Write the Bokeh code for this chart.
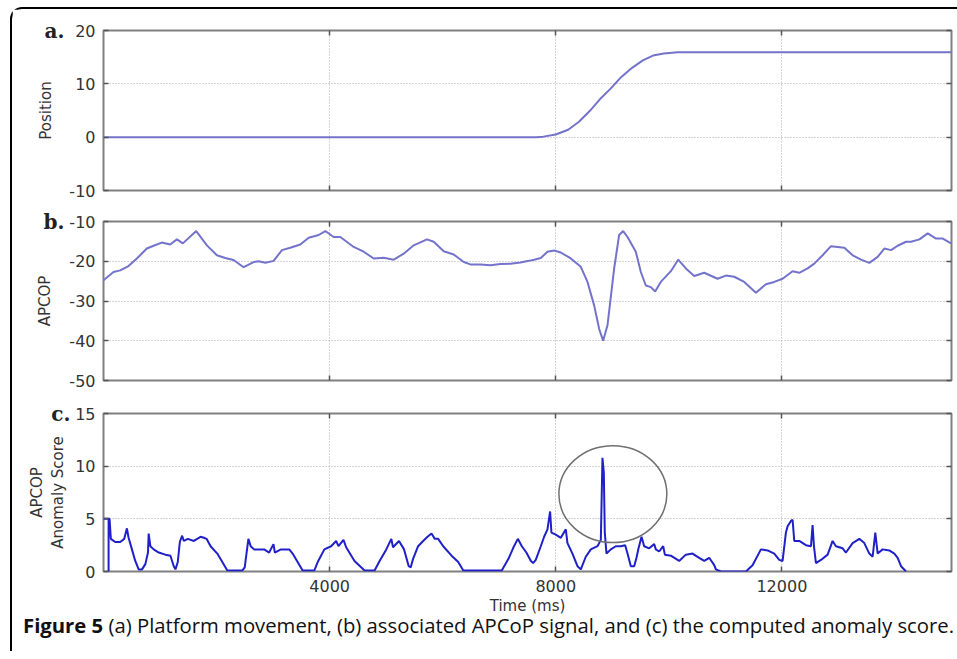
from bokeh.plotting import figure
from bokeh.models import FixedTicker, LinearAxis, Div, Range1d, Grid
from bokeh.layouts import column
from bokeh.embed import file_html
from bokeh.resources import INLINE

# ---------------- data ----------------
time_ticks = [4000, 8000, 12000]
x_limits = [0, 15000]

pos_ticks = [-10, 0, 10, 20]
pos_t = [0, 7650, 7780, 8000, 8220, 8410, 8600, 8780, 8970, 9160, 9350, 9540, 9720, 9910, 10160, 15000]
pos_v = [0, 0, 0.1, 0.5, 1.4, 2.9, 4.9, 7.1, 9.1, 11.3, 13.0, 14.4, 15.3, 15.7, 15.9, 15.9]

apcop_ticks = [-50, -40, -30, -20, -10]
apcop_t = [0, 177, 295, 442, 590, 767, 885, 1032, 1180, 1298,
           1404, 1640, 1829, 2006, 2153, 2301, 2478, 2655, 2744, 2862,
           3009, 3157, 3304, 3481, 3629, 3806, 3924, 4071, 4189, 4425,
           4602, 4779, 4956, 5133, 5310, 5487, 5723, 5841, 6018, 6195,
           6372, 6490, 6667, 6844, 7021, 7198, 7375, 7523,
           7617, 7735, 7853, 7971, 8089, 8266, 8443, 8561, 8679, 8767,
           8838, 8915, 9033, 9121, 9192, 9269, 9416, 9505, 9593, 9682,
           9758, 9858, 10036, 10165, 10301, 10449, 10626, 10862, 11009, 11157,
           11334, 11540, 11717, 11865, 12012, 12189, 12307, 12455, 12573, 12720,
           12868, 13104, 13252, 13399, 13547, 13694, 13812, 13930, 14048, 14196,
           14284, 14432, 14579, 14727, 14845, 14993]
apcop_v = [-24.8, -22.7, -22.3, -21.2, -19.3, -16.8, -16.1, -15.3, -15.8, -14.5,
           -15.5, -12.4, -16.0, -18.5, -19.2, -19.7, -21.5, -20.2, -20.0, -20.4,
           -19.9, -17.2, -16.6, -15.8, -14.1, -13.4, -12.4, -13.9, -13.9, -16.4,
           -17.6, -19.3, -19.1, -19.6, -18.1, -16.0, -14.5, -15.1, -17.5, -18.3,
           -20.2, -20.8, -20.8, -21.0, -20.7, -20.6, -20.3, -19.9,
           -19.6, -19.2, -17.6, -17.3, -17.8, -19.3, -21.4, -25.2, -31.1, -37.0,
           -40.0, -36.1, -21.8, -13.4, -12.4, -13.9, -17.6, -22.7, -26.1, -26.5,
           -27.6, -25.2, -22.5, -19.6, -21.8, -23.7, -22.9, -24.4, -23.6, -23.9,
           -25.2, -27.9, -25.8, -25.2, -24.4, -22.5, -22.9, -21.8, -20.6, -18.5,
           -16.2, -16.6, -18.5, -19.6, -20.4, -18.9, -16.8, -17.2, -16.1, -15.1,
           -15.1, -14.5, -13.0, -14.3, -14.3, -15.5]

anom_ticks = [0, 5, 10, 15]
anom_t = [0, 90, 90, 90, 107, 130, 207, 296, 367, 414,
          444, 503, 562, 622, 681, 740, 787, 799, 829, 888,
          977, 1095, 1184, 1243, 1273, 1314, 1350, 1391, 1421, 1492,
          1598, 1687, 1717, 1776, 1823, 1894, 2013, 2102, 2190, 2457,
          2498, 2563, 2604, 2664, 2842, 2930, 3007, 3031, 3138, 3286,
          3345, 3434, 3522, 3730, 3789, 3907, 4026, 4115, 4156, 4245,
          4292, 4440, 4618, 4795, 4884, 5002, 5091, 5121, 5227, 5316,
          5399, 5435, 5476, 5565, 5654, 5731, 5802, 5861, 5920, 6009,
          6157, 6275, 6364, 7045, 7163, 7252, 7329, 7400, 7480, 7560,
          7600, 7646, 7735, 7794, 7853, 7900, 7923, 8000, 8089, 8177,
          8207, 8295, 8384, 8443, 8531, 8620, 8738, 8797, 8826, 8850,
          8867, 8897, 8974, 9062, 9151, 9227, 9269, 9328, 9387, 9428,
          9464, 9517, 9564, 9652, 9741, 9770, 9829, 9900, 9930, 10036,
          10183, 10301, 10419, 10537, 10626, 10714, 10803, 10832, 10921, 11363,
          11481, 11629, 11747, 11865, 11953, 12012, 12071, 12101, 12160, 12189,
          12219, 12307, 12425, 12514, 12543, 12567, 12602, 12691, 12809, 12897,
          12956, 13074, 13133, 13251, 13369, 13458, 13546, 13605, 13652, 13694,
          13782, 13900, 13989, 14048, 14107, 14196]
anom_v = [5, 5, 0, 5, 5.0, 3.1, 2.8, 2.8, 3.1, 4.1,
          3.2, 2.1, 1.0, 0.2, 0.2, 0.7, 1.8, 3.6, 2.4, 2.1,
          1.8, 1.6, 1.5, 0.5, 0.2, 0.9, 2.8, 3.4, 2.9, 3.1,
          2.9, 3.2, 3.3, 3.2, 3.1, 2.4, 1.7, 0.9, 0.1, 0.1,
          0.4, 3.1, 2.4, 2.1, 2.1, 1.8, 2.6, 1.8, 2.1, 2.1,
          1.7, 0.9, 0.1, 0.1, 0.9, 2.1, 2.4, 2.9, 2.4, 3.0,
          2.3, 1.0, 0.1, 0.1, 1.0, 2.1, 3.1, 2.3, 2.9, 2.1,
          0.5, 0.4, 1.2, 2.4, 2.9, 3.3, 3.6, 3.1, 3.1, 2.4,
          1.5, 0.9, 0.1, 0.1, 1.2, 2.3, 3.1, 2.4, 1.8, 1.0,
          0.8, 1.1, 2.4, 3.3, 4.0, 5.7, 3.7, 3.5, 3.2, 4.0,
          2.7, 1.7, 0.5, 0.2, 1.4, 2.1, 2.4, 3.0, 10.8, 9.4,
          3.7, 1.7, 2.1, 2.4, 2.4, 2.5, 1.7, 0.5, 0.5, 1.3,
          2.2, 3.3, 2.4, 2.2, 2.6, 2.1, 1.9, 2.4, 1.6, 1.5,
          1.0, 1.6, 1.7, 1.3, 1.0, 1.3, 0.6, 0.2, 0.0, 0.0,
          0.6, 2.1, 2.0, 1.7, 1.1, 1.0, 3.7, 4.3, 4.8, 4.9,
          2.9, 2.9, 2.5, 2.4, 4.4, 2.4, 0.8, 1.1, 1.6, 2.9,
          2.4, 2.2, 1.8, 2.7, 3.1, 2.7, 1.7, 1.4, 3.7, 1.7,
          2.1, 2.0, 1.7, 1.3, 0.5, 0.0]

# circled anomaly (data units)
circle_center = (9010, 7.35)
circle_size = (1910, 9.2)

caption_bold = "Figure 5"
caption_rest = " (a) Platform movement, (b) associated APCoP signal, and (c) the computed anomaly score."

# ---------------- styling ----------------
FONT = "DejaVu Sans"
TXT = "#333333"
FRAME_W = 848


def style_axis(ax, ticks, labels):
    ax.ticker = FixedTicker(ticks=ticks)
    ax.axis_line_color = None
    ax.major_tick_in = 5
    ax.major_tick_out = 0
    ax.minor_tick_line_color = None
    ax.major_tick_line_color = "#555555"
    ax.major_tick_line_width = 1.5
    ax.major_label_text_font = FONT
    ax.major_label_text_color = TXT
    if labels:
        ax.major_label_text_font_size = "16px"
        ax.major_label_overrides = {t: str(t) for t in ticks}
    else:
        ax.major_label_overrides = {t: "" for t in ticks}
        ax.major_label_text_font_size = "1px"
        ax.major_label_standoff = 0


def make_panel(yr, yticks, ylabel, letter, label_shift, fh, btop, bbot, xlabels):
    p = figure(frame_width=FRAME_W, frame_height=fh,
               min_border_left=91, min_border_right=4,
               min_border_top=btop, min_border_bottom=bbot,
               x_range=Range1d(*x_limits), y_range=Range1d(*yr),
               x_axis_type=None, y_axis_type=None,
               output_backend="svg", toolbar_location=None)
    p.outline_line_color = "#808080"
    p.outline_line_width = 2
    p.background_fill_color = "white"
    p.border_fill_color = "white"

    # inner left axis: ticks + numbers
    left = LinearAxis()
    style_axis(left, yticks, True)
    left.major_label_standoff = 8
    p.add_layout(left, "left")

    # outer left axis: panel letter + axis title
    outer = LinearAxis(axis_label=ylabel)
    outer.ticker = FixedTicker(ticks=[yr[1]])
    outer.major_label_overrides = {yr[1]: letter}
    outer.axis_line_color = None
    outer.major_tick_line_color = None
    outer.minor_tick_line_color = None
    outer.major_label_text_font = "DejaVu Serif"
    outer.major_label_text_font_style = "bold"
    outer.major_label_text_font_size = "20px"
    outer.major_label_text_color = "#222222"
    outer.major_label_standoff = -4
    outer.axis_label_text_font = FONT
    outer.axis_label_text_font_size = "15px"
    outer.axis_label_text_font_style = "normal"
    outer.axis_label_text_color = TXT
    outer.axis_label_standoff = label_shift
    p.add_layout(outer, "left")

    right = LinearAxis()
    style_axis(right, yticks, False)
    p.add_layout(right, "right")

    top = LinearAxis()
    style_axis(top, time_ticks, False)
    p.add_layout(top, "above")

    bottom = LinearAxis(axis_label="Time (ms)" if xlabels else None)
    style_axis(bottom, time_ticks, xlabels)
    if xlabels:
        bottom.major_label_standoff = 8
        bottom.axis_label_text_font = FONT
        bottom.axis_label_text_font_size = "15px"
        bottom.axis_label_text_font_style = "normal"
        bottom.axis_label_text_color = TXT
        bottom.axis_label_standoff = 2
    p.add_layout(bottom, "below")

    for dim, tk in ((0, time_ticks), (1, yticks)):
        p.add_layout(Grid(dimension=dim, ticker=FixedTicker(ticks=tk),
                          grid_line_color="#a8a8a8", grid_line_dash="1 2",
                          grid_line_width=1))
    return p


pa = make_panel((-10, 20), pos_ticks, "Position", "a.", -13, 160, 21, 15, False)
pa.line(pos_t, pos_v, line_color="#7373cc", line_width=2)

pb = make_panel((-50, -10), apcop_ticks, "APCOP", "b.", -13, 159, 16, 16, False)
pb.line(apcop_t, apcop_v, line_color="#7373cc", line_width=2)

pc = make_panel((0, 15), anom_ticks, "APCOP\nAnomaly Score", "c.", -19, 158, 17, 45, True)
pc.line(anom_t, anom_v, line_color="#2020c8", line_width=2)
pc.ellipse(x=[circle_center[0]], y=[circle_center[1]],
           width=[circle_size[0]], height=[circle_size[1]],
           fill_color=None, line_color="#707070", line_width=1.5)

cap = Div(text=("<div style='position:relative; top:-7px; white-space:nowrap'>"
                f"<span style='font-weight:bold'>{caption_bold}</span>{caption_rest}</div>"),
          width=943, height=24,
          styles={"font-family": "Open Sans", "font-size": "20.3px",
                  "line-height": "20px", "padding-left": "6px",
                  "color": "#111111"})

layout = column(pa, pb, pc, cap, spacing=0,
                styles={"margin-left": "10px", "margin-top": "7px",
                        "border-left": "2px solid black",
                        "border-top": "2px solid black",
                        "border-top-left-radius": "12px"})

open("out.html", "w").write(file_html(layout, INLINE))
